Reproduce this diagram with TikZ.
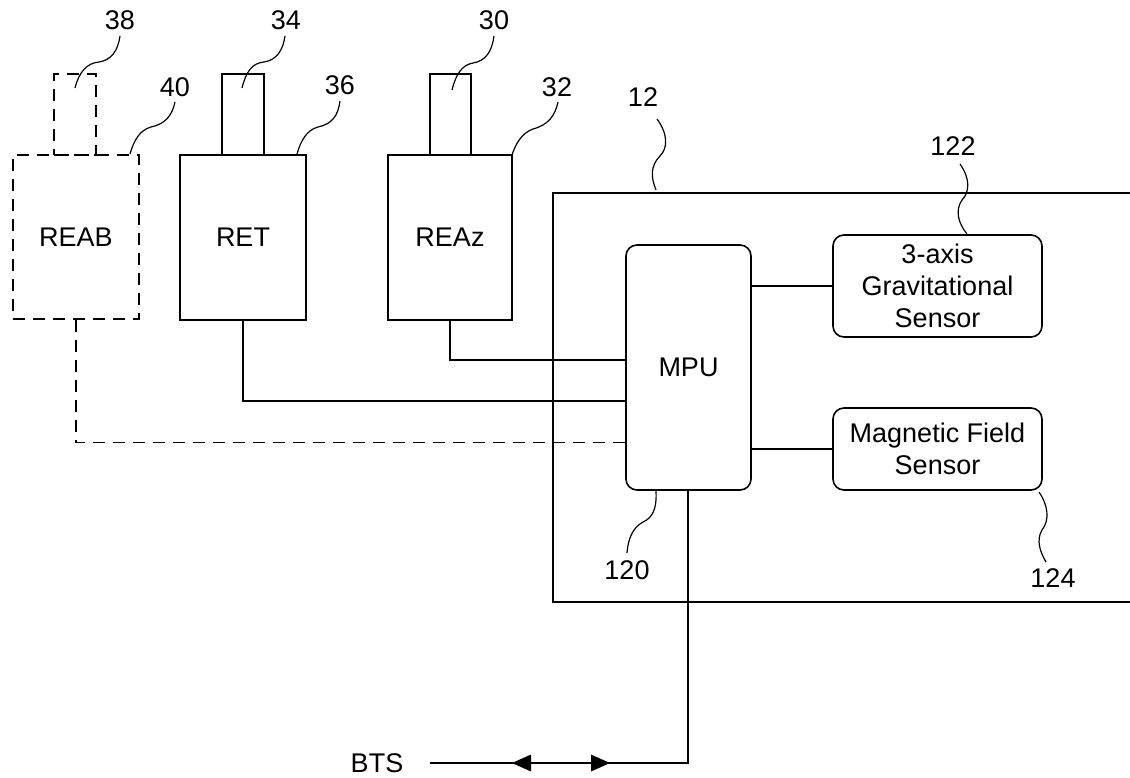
\documentclass[tikz,border=0pt]{standalone}
\usepackage{fontspec}
\setmainfont{Liberation Sans}
\usetikzlibrary{calc}
\begin{document}
\begin{tikzpicture}[x=1pt,y=-1pt,
  every node/.style={font=\fontsize{27}{32}\selectfont},
  ln/.style={line width=1.6pt},
  dsh/.style={line width=1.6pt,dash pattern=on 12pt off 8pt},
  blk/.style={draw,line width=1.6pt,inner sep=0pt,align=center},
  rblk/.style={blk,rounded corners=11pt},
  lead/.style={line width=1.2pt},
  lab/.style={inner sep=1pt}]
\useasboundingbox (0,0) rectangle (1130,778);
% enclosure 12
\draw[ln] (1131,193) -- (553,193) -- (553,602) -- (1131,602);
% radio units
\node[blk,dsh,minimum width=126,minimum height=164] (reab) at (76,237) {REAB};
\node[blk,dsh,minimum width=42,minimum height=81] (a38) at (75,114.5) {};
\node[blk,minimum width=126,minimum height=165] (ret) at (243,237.5) {RET};
\node[blk,minimum width=42,minimum height=81] (a34) at (243,114.5) {};
\node[blk,minimum width=124,minimum height=165] (reaz) at (450,237.5) {REAz};
\node[blk,minimum width=41,minimum height=81] (a30) at (450.5,114.5) {};
% MPU and sensors
\node[rblk,minimum width=125,minimum height=245] (mpu) at (688.5,367.5) {MPU};
\node[rblk,minimum width=209,minimum height=102] (grav) at (937.5,286) {3-axis\\Gravitational\\Sensor};
\node[rblk,minimum width=209,minimum height=82] (mag) at (937.5,449) {Magnetic Field\\Sensor};
% connections
\draw[ln] (reaz.south) |- ($(mpu.north west)!0.469!(mpu.south west)$);
\draw[ln] (ret.south) |- ($(mpu.north west)!0.637!(mpu.south west)$);
\draw[dsh] (reab.south) |- ($(mpu.north west)!0.804!(mpu.south west)$);
\draw[ln] (mpu.east |- grav.west) -- (grav.west);
\draw[ln] (mpu.east |- mag.west) -- (mag.west);
% BTS link
\node[lab] (bts) at (377,763) {BTS};
\coordinate (bl) at (430,763);
\coordinate (br) at (688,763);
\draw[ln] (mpu.south -| br) -- (br) -- (bl);
\fill (512,763) -- (531,754.5) -- (531,771.5) -- cycle;
\fill (610,763) -- (591,754.5) -- (591,771.5) -- cycle;
% reference labels
\node[lab] (l38) at (120,20) {38};
\node[lab] (l34) at (286,20) {34};
\node[lab] (l30) at (494,20) {30};
\node[lab] (l40) at (175,87) {40};
\node[lab] (l36) at (340,85) {36};
\node[lab] (l32) at (557,87) {32};
\node[lab] (l12) at (643,97) {12};
\node[lab] (l122) at (953,146) {122};
\node[lab] (l120) at (627,570) {120};
\node[lab] (l124) at (1053,578) {124};
% leaders
\draw[lead] (75,88) .. controls (79,72) and (87,63) .. (99,62) .. controls (112,60) and (118,50) .. (120,36);
\draw[lead] (242,88) .. controls (246,72) and (252,63) .. (264,62) .. controls (277,60) and (283,50) .. (285,36);
\draw[lead] (452,90) .. controls (456,74) and (462,65) .. (473,63) .. controls (486,61) and (492,51) .. (494,36);
\draw[lead] (130,154) .. controls (134,140) and (140,130) .. (151,127) .. controls (165,124) and (172,116) .. (175,102);
\draw[lead] (297,154) .. controls (301,140) and (307,130) .. (318,127) .. controls (332,124) and (338,116) .. (340,101);
\draw[lead] (512,155) .. controls (516,143) and (522,133) .. (533,129) .. controls (548,125) and (555,116) .. (558,102);
\draw[lead] (657,119) .. controls (668,134) and (668,148) .. (660,156) .. controls (650,166) and (651,178) .. (656,190);
\draw[lead] (960,164) .. controls (970,178) and (970,192) .. (962,200) .. controls (955,210) and (958,223) .. (967,234);
\draw[lead] (1039,492) .. controls (1048,505) and (1050,520) .. (1042,530) .. controls (1036,540) and (1040,552) .. (1046,562);
\draw[lead] (656,491) .. controls (657,510) and (652,518) .. (643,522) .. controls (632,528) and (628,540) .. (627,553);
\end{tikzpicture}
\end{document}
